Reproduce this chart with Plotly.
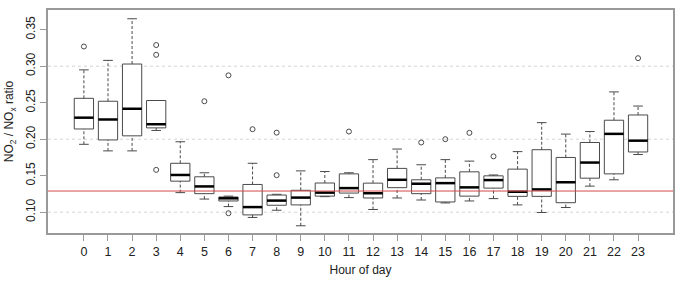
import plotly.graph_objects as go

hours = list(range(24))
q1 = [0.214, 0.199, 0.2046, 0.2155, 0.1425, 0.1254, 0.1154, 0.0963, 0.1095, 0.110,
      0.122, 0.1262, 0.1195, 0.1336, 0.1254, 0.114, 0.122, 0.133, 0.1217, 0.1217,
      0.113, 0.1466, 0.1525, 0.1825]
med = [0.2295, 0.227, 0.2417, 0.2205, 0.151, 0.1353, 0.119, 0.107, 0.1159, 0.120,
       0.1268, 0.133, 0.126, 0.1444, 0.139, 0.1398, 0.134, 0.144, 0.128, 0.1312,
       0.141, 0.168, 0.2073, 0.198]
q3 = [0.256, 0.252, 0.303, 0.253, 0.167, 0.1485, 0.1208, 0.138, 0.1235, 0.130,
      0.140, 0.1525, 0.1398, 0.160, 0.1444, 0.147, 0.1553, 0.1498, 0.159, 0.1856,
      0.175, 0.1955, 0.226, 0.2332]
whisk_lo = [0.193, 0.184, 0.184, 0.212, 0.1268, 0.118, 0.1077, 0.0928, 0.1027, 0.0814,
            0.1213, 0.120, 0.1037, 0.1195, 0.1167, 0.1127, 0.1154, 0.1186, 0.110, 0.0996,
            0.1064, 0.1357, 0.1444, 0.179]
whisk_hi = [0.295, 0.308, 0.365, 0.253, 0.1965, 0.154, 0.122, 0.167, 0.1245, 0.1566,
            0.1557, 0.154, 0.172, 0.1865, 0.165, 0.172, 0.170, 0.151, 0.183, 0.2227,
            0.207, 0.2105, 0.2648, 0.2454]
outlier_hour = [0, 3, 3, 3, 5, 6, 6, 7, 8, 8, 11, 14, 15, 16, 17, 23]
outlier_val = [0.327, 0.329, 0.3156, 0.158, 0.252, 0.2875, 0.0986, 0.2137, 0.209, 0.1507,
               0.2105, 0.1955, 0.200, 0.2087, 0.1765, 0.311]
ref_value = 0.129
grid_values = [0.10, 0.20, 0.30]
y_ticks = [0.10, 0.15, 0.20, 0.25, 0.30, 0.35]

BW = 0.8
ST = 0.2
dark = "#4a4a4a"
txt = "#222222"

fig = go.Figure()

# dashed whiskers
wx, wy = [], []
for h, a, b, l, u in zip(hours, q1, q3, whisk_lo, whisk_hi):
    wx += [h, h, None, h, h, None]
    wy += [l, a, None, b, u, None]
fig.add_trace(go.Scatter(x=wx, y=wy, mode="lines", line=dict(color=dark, width=1, dash="3px,2px"),
                         hoverinfo="skip", showlegend=False))
# staples
sx, sy = [], []
for h, l, u in zip(hours, whisk_lo, whisk_hi):
    sx += [h - ST, h + ST, None, h - ST, h + ST, None]
    sy += [l, l, None, u, u, None]
fig.add_trace(go.Scatter(x=sx, y=sy, mode="lines", line=dict(color=dark, width=1),
                         hoverinfo="skip", showlegend=False))

fig.add_trace(go.Box(x=hours, q1=q1, median=med, q3=q3, lowerfence=q1, upperfence=q3,
                     width=BW, whiskerwidth=0, fillcolor="white",
                     line=dict(color=dark, width=1), boxpoints=False, showlegend=False))

# thick medians
mx, my = [], []
for h, m in zip(hours, med):
    mx += [h - BW / 2, h + BW / 2, None]
    my += [m, m, None]
fig.add_trace(go.Scatter(x=mx, y=my, mode="lines", line=dict(color="black", width=2.5),
                         hoverinfo="skip", showlegend=False))

fig.add_trace(go.Scatter(x=outlier_hour, y=outlier_val, mode="markers",
                         marker=dict(symbol="circle-open", size=5, color=dark, line=dict(width=1)),
                         showlegend=False))

shapes = []
for g in grid_values:
    shapes.append(dict(type="line", xref="paper", x0=0, x1=1, yref="y", y0=g, y1=g,
                       line=dict(color="#d4d4d4", width=1, dash="3px,3px"), layer="below"))
shapes.append(dict(type="line", xref="paper", x0=0, x1=1, yref="y", y0=ref_value, y1=ref_value,
                   line=dict(color="#d24a4a", width=1)))

fig.update_layout(
    width=688, height=295,
    margin=dict(l=46, r=15, t=8, b=62),
    plot_bgcolor="white", paper_bgcolor="white",
    font=dict(family="Liberation Sans, Arial, sans-serif", size=12, color=txt),
    shapes=shapes,
    xaxis=dict(range=[-1.49, 24.45], tickmode="array", tickvals=hours,
               ticktext=[str(h) for h in hours], ticks="outside", ticklen=6,
               tickcolor="#999999", showgrid=False, zeroline=False,
               tickfont=dict(color=txt, size=12.5),
               showline=True, mirror=True, linecolor="#999999", linewidth=1.5,
               title=dict(text="Hour of day", standoff=8, font=dict(size=12, color=txt))),
    yaxis=dict(range=[0.0715, 0.377], tickmode="array", tickvals=y_ticks,
               ticktext=[f"{v:.2f}" for v in y_ticks], tickangle=-90,
               ticks="outside", ticklen=6, tickcolor="#999999",
               tickfont=dict(color=txt, size=12),
               showgrid=False, zeroline=False, showline=True, mirror=True,
               linecolor="#999999", linewidth=1.5,
               title=dict(text="NO<sub>2</sub> / NO<sub>x</sub> ratio", standoff=8,
                          font=dict(size=12, color=txt))),
)

fig.write_html("out.html")
